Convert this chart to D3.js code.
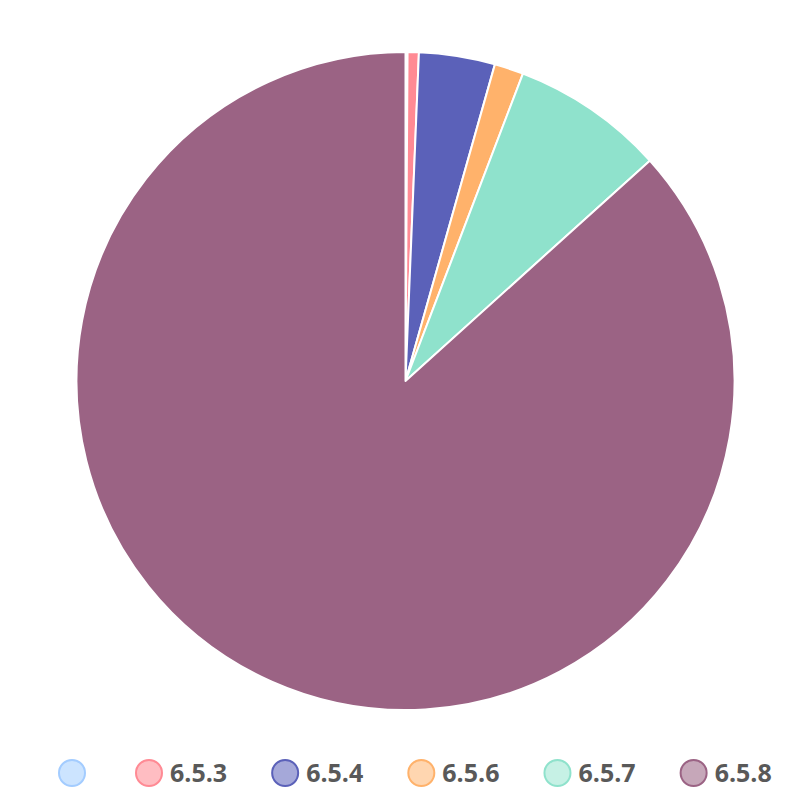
<!DOCTYPE html>
<html>
<head>
<meta charset="utf-8">
<script src="https://cdn.jsdelivr.net/npm/d3@7"></script>
<style>
  html, body { margin: 0; padding: 0; background: #fff; }
  svg { display: block; }
</style>
</head>
<body>
<svg id="chart" width="804" height="810"></svg>
<script>
const categories = ["", "6.5.3", "6.5.4", "6.5.6", "6.5.7", "6.5.8"];
const values = [10, 55, 373, 143, 751, 8668];
const fillColors = ["#cce4ff", "#ff8a94", "#5b61b9", "#ffb26b", "#8fe2cc", "#9b6384"];
const legendFills = ["#cce4ff", "#ffbdc2", "#a5a8d9", "#ffd6b0", "#c6f1e5", "#c6a7b9"];
const legendStrokes = ["#a3ccff", "#ff8a94", "#5b61b9", "#ffb26b", "#8fe2cc", "#9b6384"];

const data = categories.map((c, i) => ({ name: c, value: values[i], i }));

const svg = d3.select("#chart");
const cx = 405.5, cy = 381, r = 329;

const pie = d3.pie().value(d => d.value).sort(null);
const arc = d3.arc().innerRadius(0).outerRadius(r);

const g = svg.append("g").attr("transform", `translate(${cx},${cy})`);
g.selectAll("path").data(pie(data)).enter().append("path")
  .attr("d", arc)
  .attr("fill", d => fillColors[d.data.i])
  .attr("stroke", "#fff")
  .attr("stroke-width", 2)
  .attr("stroke-linejoin", "round");

// legend
const lg = svg.append("g").attr("transform", "translate(0,773)");
const items = lg.selectAll("g.item").data(data).enter().append("g").attr("class", "item");
items.append("circle")
  .attr("r", 13)
  .attr("fill", d => legendFills[d.i])
  .attr("stroke", d => legendStrokes[d.i])
  .attr("stroke-width", 2);
items.append("text")
  .attr("x", 21)
  .attr("dy", "0.36em")
  .attr("font-family", "'Open Sans', sans-serif")
  .attr("font-weight", "bold")
  .attr("font-size", 25)
  .attr("fill", "#595959")
  .text(d => d.name);

let x = 72;
items.each(function(d) {
  const node = d3.select(this);
  node.attr("transform", `translate(${x},0)`);
  const tw = d.name ? node.select("text").node().getComputedTextLength() : 0;
  x += d.name ? 13 + 8 + tw + 45 + 13 : 77;
});
</script>
</body>
</html>
